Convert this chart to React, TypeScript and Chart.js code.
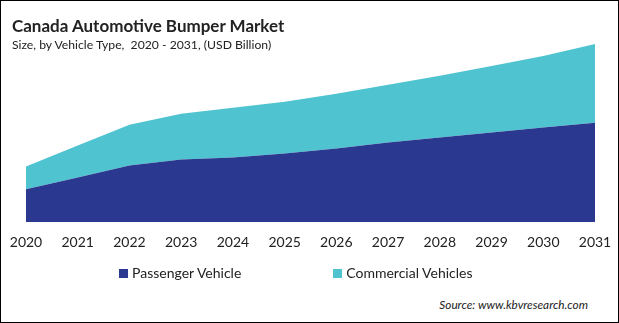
import React, { useEffect, useRef } from "react";
import { Chart, registerables } from "chart.js";

Chart.register(...registerables);

const years = ["2020", "2021", "2022", "2023", "2024", "2025", "2026", "2027", "2028", "2029", "2030", "2031"];
const passengerVehicle = [0.33, 0.45, 0.57, 0.63, 0.65, 0.69, 0.74, 0.80, 0.85, 0.90, 0.95, 1.00];
const commercialVehicles = [0.23, 0.32, 0.41, 0.46, 0.50, 0.52, 0.55, 0.58, 0.62, 0.67, 0.72, 0.79];
const seriesNames = ["Passenger Vehicle", "Commercial Vehicles"];
const seriesColors = ["#2b388f", "#4fc3cf"];

const FONT = "Lato, 'Open Sans', sans-serif";

export default function App() {
  const canvasRef = useRef<HTMLCanvasElement | null>(null);

  useEffect(() => {
    if (!canvasRef.current) return;
    const chart = new Chart(canvasRef.current, {
      type: "line",
      data: {
        labels: years,
        datasets: [
          {
            label: seriesNames[0],
            data: passengerVehicle,
            backgroundColor: seriesColors[0],
            borderColor: seriesColors[0],
            borderWidth: 0,
            pointRadius: 0,
            fill: "origin",
            tension: 0,
          },
          {
            label: seriesNames[1],
            data: commercialVehicles,
            backgroundColor: seriesColors[1],
            borderColor: seriesColors[1],
            borderWidth: 0,
            pointRadius: 0,
            fill: "-1",
            tension: 0,
          },
        ],
      },
      options: {
        animation: false,
        responsive: false,
        maintainAspectRatio: false,
        layout: { padding: { left: 26, right: 24, top: 44, bottom: 8 } },
        plugins: {
          legend: { display: false },
          tooltip: { enabled: false },
          title: { display: false },
        },
        scales: {
          x: {
            offset: false,
            grid: { display: false, drawTicks: false },
            border: { display: false },
            afterFit: (scale: any) => {
              scale.paddingLeft = 0;
              scale.paddingRight = 0;
            },
            ticks: {
              padding: 12,
              maxRotation: 0,
              autoSkip: false,
              color: "#222222",
              font: { family: FONT, size: 14 },
            },
          },
          y: {
            display: false,
            stacked: true,
            min: 0,
            max: 1.79,
          },
        },
      },
    });
    return () => chart.destroy();
  }, []);

  return (
    <div
      style={{
        position: "relative",
        width: 619,
        height: 323,
        border: "1px solid #000",
        boxSizing: "border-box",
        background: "#fff",
        fontFamily: FONT,
        overflow: "hidden",
      }}
    >
      <style>{`body{margin:0}`}</style>
      <canvas
        ref={canvasRef}
        width={619}
        height={271}
        style={{ position: "absolute", left: -1, top: -1, width: 619, height: 271 }}
      />
      <div
        style={{
          position: "absolute",
          left: 11,
          top: 16,
          fontSize: 17,
          lineHeight: "17px",
          fontWeight: 700,
          color: "#222",
          whiteSpace: "nowrap",
        }}
      >
        Canada Automotive Bumper Market
      </div>
      <div
        style={{
          position: "absolute",
          left: 11,
          top: 37,
          fontSize: 12.2,
          lineHeight: "13px",
          color: "#222",
          whiteSpace: "nowrap",
        }}
      >
        Size, by Vehicle Type,&nbsp; 2020 - 2031, (USD Billion)
      </div>
      <div
        style={{
          position: "absolute",
          left: 118,
          top: 264,
          display: "flex",
          alignItems: "center",
          fontSize: 14,
          lineHeight: "16px",
          color: "#222",
          whiteSpace: "nowrap",
        }}
      >
        <span style={{ display: "inline-block", width: 9, height: 9, background: seriesColors[0], marginRight: 4 }} />
        <span>{seriesNames[0]}</span>
        <span
          style={{ display: "inline-block", width: 9, height: 9, background: seriesColors[1], marginLeft: 92, marginRight: 4 }}
        />
        <span>{seriesNames[1]}</span>
      </div>
      <div
        style={{
          position: "absolute",
          right: 30,
          top: 297,
          fontSize: 11.8,
          lineHeight: "14px",
          fontStyle: "italic",
          color: "#222",
          whiteSpace: "nowrap",
        }}
      >
        Source: www.kbvresearch.com
      </div>
    </div>
  );
}
